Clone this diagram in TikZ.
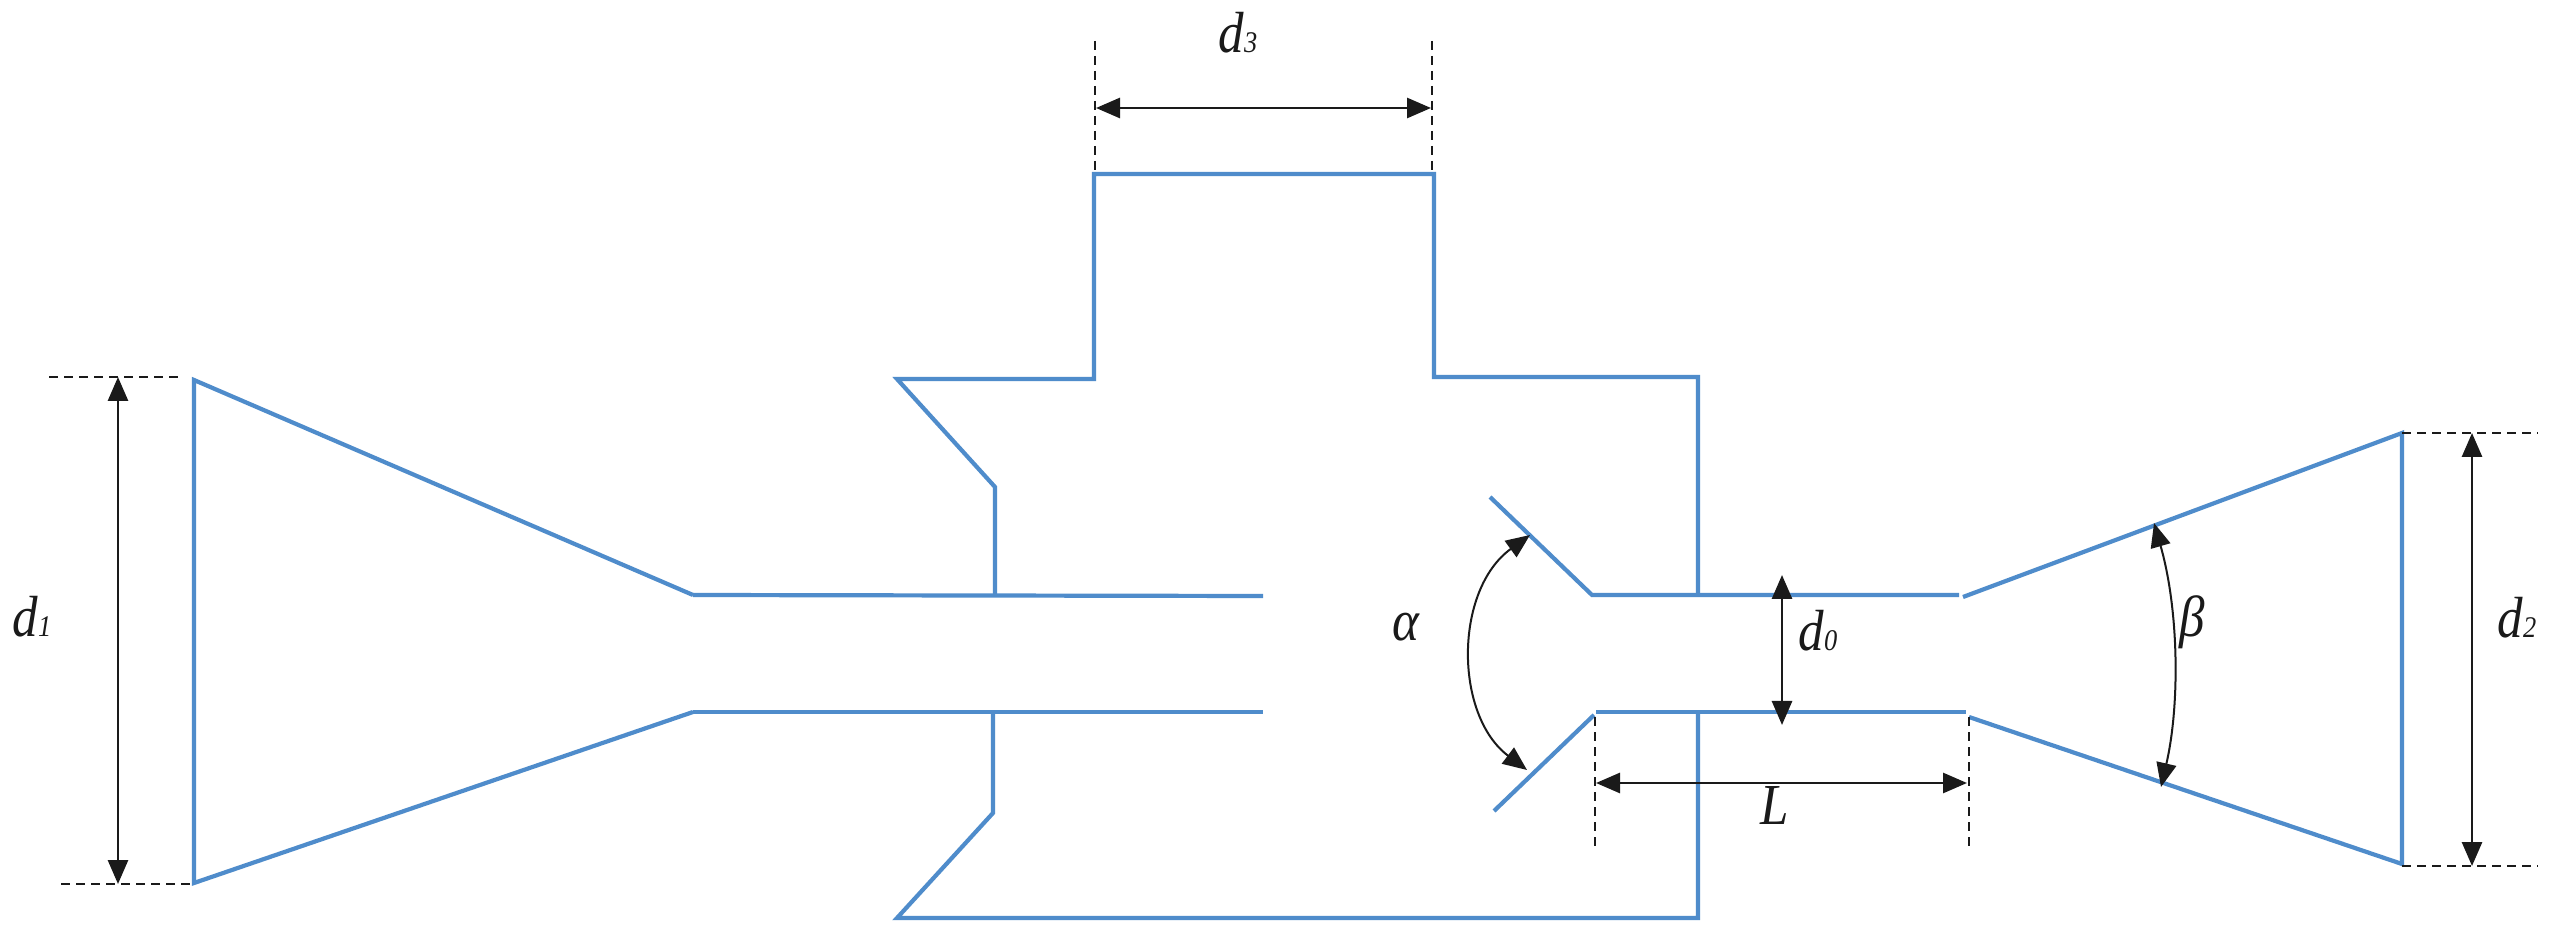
\documentclass[tikz,border=0pt]{standalone}
\usepackage{fontspec}
\setmainfont{Liberation Serif}
\usetikzlibrary{arrows.meta}
\newcommand{\dsub}[2]{\textit{#1}{\fontsize{15}{15}\selectfont\textit{#2}}}
\definecolor{duct}{HTML}{4F8CCB}
\definecolor{inkblack}{HTML}{1A1A1A}
\tikzset{
  x=0.5pt,y=-0.5pt,
  duct line/.style={draw=duct,line width=2.1pt,line join=miter},
  dim arrow/.style={draw=inkblack,line width=1.4pt,{Triangle[length=12pt,width=10pt]}-{Triangle[length=12pt,width=10pt]}},
  arc arrow/.style={draw=inkblack,line width=1.0pt,{Triangle[length=12pt,width=10pt]}-{Triangle[length=12pt,width=10pt]}},
  ext line/.style={draw=inkblack,line width=1.1pt,dash pattern=on 4.5pt off 3pt},
  dim label/.style={inner sep=0pt,xscale=0.88,font=\fontsize{29}{29}\selectfont\itshape,text=inkblack}
}
\begin{document}
\begin{tikzpicture}
\fill[white] (0,0) rectangle (2560,940);
\useasboundingbox (0,0) rectangle (2560,940);

% duct outlines
\draw[duct line] (693,595) -- (194,380) -- (194,883) -- (693,712);
\draw[duct line] (693,595) -- (1263,596);
\draw[duct line] (693,712) -- (1263,712);
\draw[duct line] (995,596) -- (995,487) -- (897,379) -- (1094,379) -- (1094,174) -- (1434,174) -- (1434,377) -- (1698,377) -- (1698,595);
\draw[duct line] (1698,712) -- (1698,918) -- (897,918) -- (993,813) -- (993,712);
\draw[duct line] (1490,497) -- (1592,595) -- (1959,595);
\draw[duct line] (1494,811) -- (1594,715);
\draw[duct line] (1596,712) -- (1966,712);
\draw[duct line] (1963,597) -- (2402,433) -- (2402,864) -- (1969,717);

% extension lines
\coordinate (d1ta) at (49,377);  \coordinate (d1tb) at (184,377);
\coordinate (d1ba) at (61,884);  \coordinate (d1bb) at (194,884);
\coordinate (d3la) at (1095,41); \coordinate (d3lb) at (1095,172);
\coordinate (d3ra) at (1432,41); \coordinate (d3rb) at (1432,172);
\coordinate (Lla) at (1595,717); \coordinate (Llb) at (1595,852);
\coordinate (Lra) at (1969,717); \coordinate (Lrb) at (1969,852);
\coordinate (d2ta) at (2402,433);\coordinate (d2tb) at (2538,433);
\coordinate (d2ba) at (2402,866);\coordinate (d2bb) at (2538,866);
\foreach \a/\b in {d1ta/d1tb,d1ba/d1bb,d3la/d3lb,d3ra/d3rb,Lla/Llb,Lra/Lrb,d2ta/d2tb,d2ba/d2bb}
  \draw[ext line] (\a) -- (\b);

% dimension arrows
\coordinate (d1a) at (118,377);  \coordinate (d1b) at (118,884);
\coordinate (d3a) at (1096,108); \coordinate (d3b) at (1431,108);
\coordinate (d0a) at (1782,575); \coordinate (d0b) at (1782,725);
\coordinate (La) at (1596,783);  \coordinate (Lb) at (1967,783);
\coordinate (d2a) at (2472,433); \coordinate (d2b) at (2472,866);
\draw[dim arrow] (d1a) -- (d1b);
\draw[dim arrow] (d3a) -- (d3b);
\draw[dim arrow] (d0a) -- (d0b);
\draw[dim arrow] (La) -- (Lb);
\draw[dim arrow] (d2a) -- (d2b);

% angle arcs
\coordinate (aa) at (1530,535); \coordinate (ab) at (1527,770);
\coordinate (ba) at (2154,523); \coordinate (bb) at (2161,787);
\draw[arc arrow] (aa) .. controls (1454,590) and (1454,715) .. (ab);
\draw[arc arrow] (ba) .. controls (2179,610) and (2180,705) .. (bb);

% labels
\node[dim label] (ld1) at (32,617) {\dsub{d}{1}};
\node[dim label] (ld3) at (1238,33) {\dsub{d}{3}};
\node[dim label] (ld0) at (1818,631) {\dsub{d}{0}};
\node[dim label] (ld2) at (2517,618) {\dsub{d}{2}};
\node[dim label] (lL) at (1775,806) {L};
\node[dim label] (lalpha) at (1406,627) {α};
\node[dim label] (lbeta) at (2192,622) {β};
\end{tikzpicture}
\end{document}
